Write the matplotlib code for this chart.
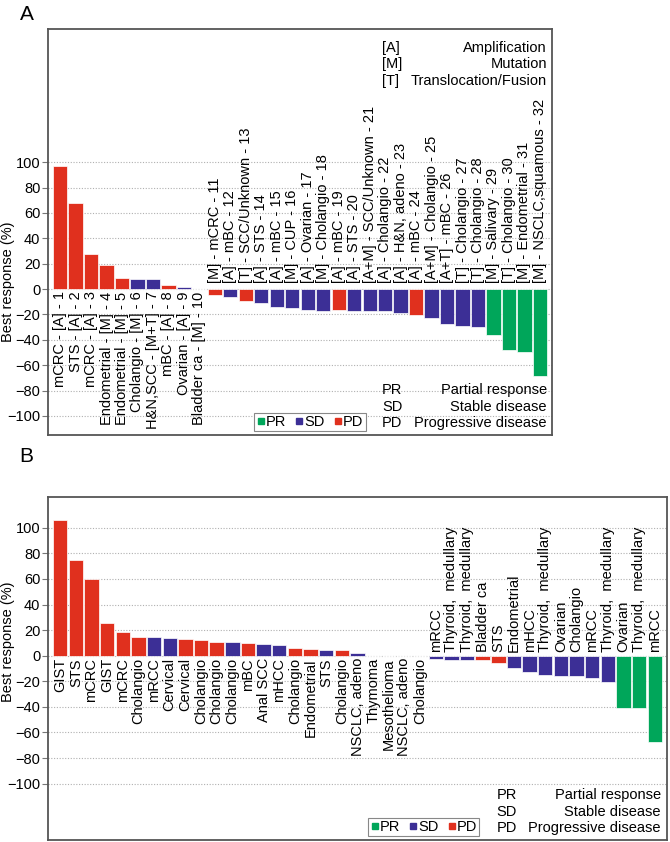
import matplotlib
matplotlib.use('Agg')
import matplotlib.pyplot as plt
from matplotlib.lines import Line2D

plt.rcParams['font.family'] = ['Liberation Sans', 'DejaVu Sans']
plt.rcParams['font.size'] = 10

RED = '#e0301e'
BLUE = '#3c2f96'
GREEN = '#00a65a'
colmap = {'PD': RED, 'SD': BLUE, 'PR': GREEN}

# ---------- panel A data ----------
a_labels = [
    'mCRC - [A] - 1', 'STS - [A] - 2', 'mCRC - [A] - 3', 'Endometrial - [M] - 4',
    'Endometrial - [M] - 5', 'Cholangio - [M] - 6', 'H&N,SCC - [M+T] - 7',
    'mBC - [A] - 8', 'Ovarian - [A] - 9', 'Bladder ca - [M] - 10',
    '[M] - mCRC - 11', '[A] - mBC - 12', '[T] - SCC/Unknown - 13', '[A] - STS - 14',
    '[A] - mBC - 15', '[M] - CUP - 16', '[A] - Ovarian - 17', '[M] - Cholangio - 18',
    '[A] - mBC - 19', '[A] - STS - 20', '[A+M] - SCC/Unknown - 21',
    '[A] - Cholangio - 22', '[A] - H&N, adeno - 23', '[A] - mBC - 24',
    '[A+M] - Cholangio - 25', '[A+T] - mBC - 26', '[T] - Cholangio - 27',
    '[T] - Cholangio - 28', '[M] - Salivary - 29', '[T] - Cholangio - 30',
    '[M] - Endometrial - 31', '[M] - NSCLC,squamous - 32',
]
a_values = [97, 68, 27.5, 19, 9, 7.6, 7.6, 3, 1.3, 0,
            -5, -6.5, -9.5, -10.8, -14.4, -15.2, -16.3, -17, -16.8, -17.4,
            -17.4, -17.4, -18.7, -20.5, -22.6, -27.8, -29.4, -30, -36.5, -48,
            -49.4, -68.5]
a_resp = ['PD', 'PD', 'PD', 'PD', 'PD', 'SD', 'SD', 'PD', 'SD', 'PD',
          'PD', 'SD', 'PD', 'SD', 'SD', 'SD', 'SD', 'SD', 'PD', 'SD',
          'SD', 'SD', 'SD', 'PD', 'SD', 'SD', 'SD', 'SD', 'PR', 'PR',
          'PR', 'PR']

# ---------- panel B data ----------
b_labels = [
    'GIST', 'STS', 'mCRC', 'GIST', 'mCRC', 'Cholangio', 'mRCC', 'Cervical',
    'Cervical', 'Cholangio', 'Cholangio', 'Cholangio', 'mBC', 'Anal SCC', 'mHCC',
    'Cholangio', 'Endometrial', 'STS', 'Cholangio', 'NSCLC, adeno', 'Thymoma',
    'Mesothelioma', 'NSCLC, adeno', 'Cholangio', 'mRCC', 'Thyroid,  medullary',
    'Thyroid,  medullary', 'Bladder ca', 'STS', 'Endometrial', 'mHCC',
    'Thyroid,  medullary', 'Ovarian', 'Cholangio', 'mRCC', 'Thyroid,  medullary',
    'Ovarian', 'Thyroid,  medullary', 'mRCC',
]
b_values = [105.7, 75, 60, 25.8, 18.8, 14.8, 14.6, 14, 12.8, 12.6,
            10.9, 10.4, 10.2, 9.1, 8, 6, 5.5, 4.7, 4.2, 2,
            0, 0, 0, 0, -2.6, -3.6, -3.6, -3.6, -5.7, -9.4,
            -13, -15.4, -15.6, -15.6, -17.7, -20.6, -40.6, -40.6, -67.2]
b_resp = ['PD', 'PD', 'PD', 'PD', 'PD', 'PD', 'SD', 'SD', 'PD', 'PD',
          'PD', 'SD', 'PD', 'SD', 'SD', 'PD', 'PD', 'SD', 'PD', 'SD',
          'SD', 'SD', 'SD', 'SD', 'SD', 'SD', 'SD', 'PD', 'PD', 'SD',
          'SD', 'SD', 'SD', 'SD', 'SD', 'SD', 'PR', 'PR', 'PR']

yticks = list(range(-100, 101, 20))
abbr = ['PR', 'SD', 'PD']
abbr_text = ['Partial response', 'Stable disease', 'Progressive disease']
alt = ['[A]', '[M]', '[T]']
alt_text = ['Amplification', 'Mutation', 'Translocation/Fusion']

fig = plt.figure(figsize=(6.7, 8.42), dpi=100)
axA = fig.add_axes([48 / 670, 407 / 842, 504 / 670, 406 / 842])
axB = fig.add_axes([48 / 670, 2 / 842, 619 / 670, 343 / 842])


def draw_panel(ax, labels, values, resp, ylim, ylab_x, ylab_y, up_off):
    x = list(range(len(values)))
    ax.bar(x, values, width=0.92, color=[colmap[r] for r in resp],
           edgecolor='white', linewidth=0.5, zorder=2)
    for i, (lab, v) in enumerate(zip(labels, values)):
        if v >= 0:
            ax.text(i, -1.8, lab, rotation=90, ha='center', va='top', fontsize=10.5, zorder=3)
        else:
            ax.text(i, up_off, lab, rotation=90, ha='center', va='bottom', fontsize=10.5, zorder=3)
    ax.set_xlim(-0.78, len(values) - 0.22)
    ax.set_ylim(*ylim)
    ax.set_yticks(yticks)
    ax.set_xticks([])
    for t in yticks:
        ax.axhline(t, color='#b0b0b0', linestyle=(0, (1, 1.5)), linewidth=0.8, zorder=0)
    for s in ax.spines.values():
        s.set_color('#555555')
        s.set_linewidth(1.3)
    ax.tick_params(axis='y', length=4, color='#777777', labelsize=10.5, pad=1.5)
    ax.set_ylabel('Best response (%)', fontsize=10.5)
    ax.yaxis.set_label_coords(ylab_x, ylab_y)


draw_panel(axA, a_labels, a_values, a_resp, (-115, 205), -0.066, 0.377, 4.5)
draw_panel(axB, b_labels, b_values, b_resp, (-144, 124), -0.054, 0.577, 3)


def response_key(ax, x0, x1, ys, leg_anchor):
    for ab, txt, y in zip(abbr, abbr_text, ys):
        ax.text(x0, y, ab, transform=ax.transAxes, ha='left', va='center', fontsize=10.5)
        ax.text(x1, y, txt, transform=ax.transAxes, ha='right', va='center', fontsize=10.5)
    handles = [Line2D([], [], marker='s', linestyle='none', color=colmap[k],
                      markersize=4.5) for k in abbr]
    leg = ax.legend(handles, abbr, loc='lower left', bbox_to_anchor=leg_anchor,
                    ncol=3, fontsize=10.5, handlelength=0.6, handletextpad=0.05,
                    columnspacing=0.6, borderpad=0.15, borderaxespad=0,
                    fancybox=False, framealpha=1)
    leg.get_frame().set_edgecolor('#888888')
    leg.get_frame().set_linewidth(0.8)


response_key(axA, 0.663, 0.990, [0.111, 0.069, 0.030], (0.409, 0.01))
response_key(axB, 0.725, 0.990, [0.131, 0.082, 0.035], (0.517, 0.012))

for ab, txt, y in zip(alt, alt_text, [0.953, 0.914, 0.872]):
    axA.text(0.663, y, ab, transform=axA.transAxes, ha='left', va='center', fontsize=10.5)
    axA.text(0.990, y, txt, transform=axA.transAxes, ha='right', va='center', fontsize=10.5)

fig.text(27 / 670, 1 - 15 / 842, 'A', fontsize=15, ha='center', va='center')
fig.text(26 / 670, 1 - 457 / 842, 'B', fontsize=15, ha='center', va='center')

fig.savefig('out.png', dpi=100)
